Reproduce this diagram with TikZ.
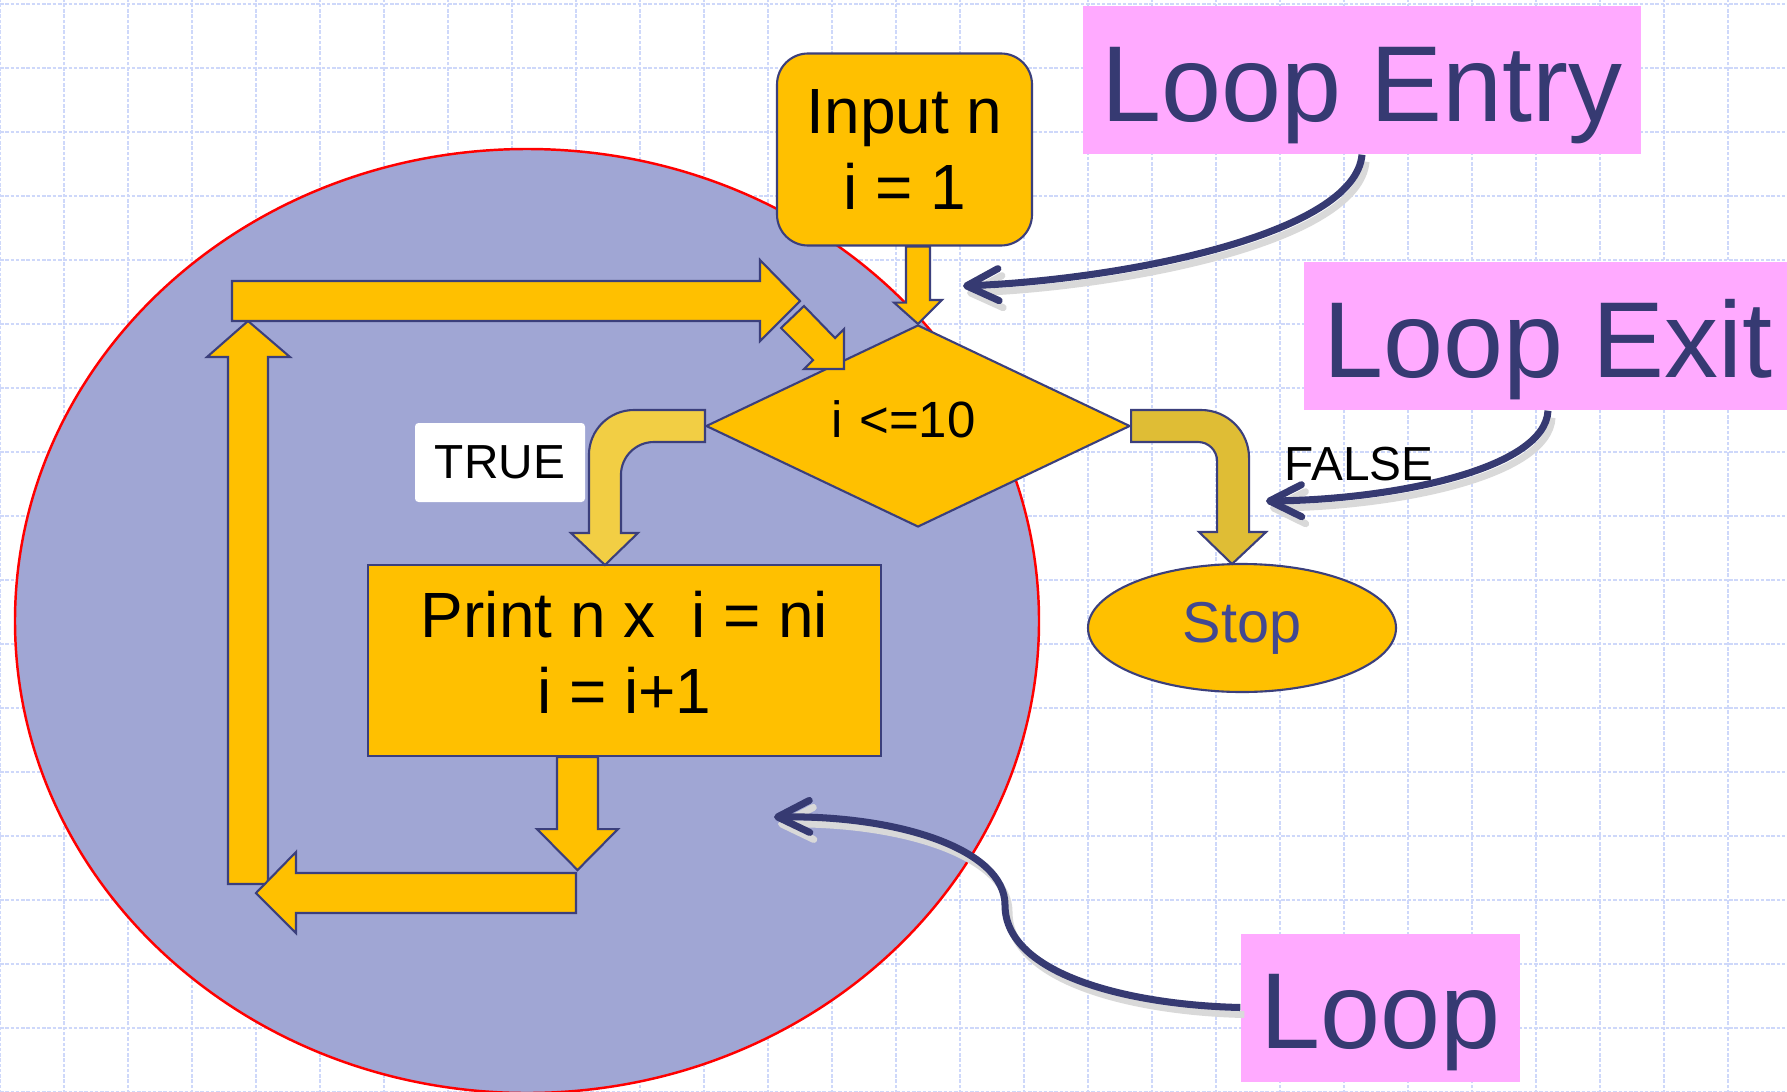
\documentclass[tikz,border=0pt]{standalone}
\usepackage{fontspec}
\setmainfont{Liberation Sans}
\usetikzlibrary{shapes.geometric}
\usetikzlibrary{arrows.meta}

\definecolor{gold}{RGB}{255,192,0}
\definecolor{truegold}{RGB}{242,206,68}
\definecolor{falsegold}{RGB}{223,189,53}
\definecolor{navyline}{RGB}{59,63,124}
\definecolor{navytext}{RGB}{54,58,114}
\definecolor{stoptext}{RGB}{66,72,145}
\definecolor{loopfill}{RGB}{160,166,212}
\definecolor{labelpink}{RGB}{255,170,255}
\definecolor{gridblue}{RGB}{206,216,250}

\begin{document}
\begin{tikzpicture}[
process/.style = {draw = navyline, fill = gold, line width = 0.6pt, align = center, inner sep = 0pt, font = \fontsize{18.2}{21.5}\selectfont},
decision/.style = {diamond, aspect = 2, draw = navyline, fill = gold, line width = 0.6pt, inner sep = 0pt, font = \fontsize{14.5}{17}\selectfont},
terminal/.style = {ellipse, draw = navyline, fill = gold, line width = 0.6pt, text = stoptext, font = \fontsize{16.4}{19}\selectfont},
blockarrow/.style = {draw = navyline, fill = gold, line width = 0.6pt},
tag/.style = {fill = labelpink, text = navytext, inner sep = 0pt, minimum height = 1.48cm, text height = 0.9cm, text depth = 0.08cm, font = \fontsize{30.7}{36}\selectfont},
callout/.style = {draw = navytext, line width = 2pt, -{Straight Barb[round, length = 3.2mm, width = 3.2mm]},
  preaction = {draw = black!15, line width = 2pt, transform canvas = {shift = {(0.4mm,-0.7mm)}}}},
branch/.style = {inner sep = 0pt, font = \fontsize{13.6}{16}\selectfont}]

\useasboundingbox (0,0) rectangle (17.87,-10.91);
\clip (0,0) rectangle (17.87,-10.91);

% squared paper
\fill[white] (0,0) rectangle (17.87,-10.91);
\draw[gridblue, line width = 0.8pt, dash pattern = on 1pt off 0.5pt, yshift = -0.04cm, step = 0.64cm] (0,0.04) grid (17.92,-11.0);

% the loop body
\node[ellipse, draw = red, line width = 0.7pt, fill = loopfill, minimum width = 10.24cm, minimum height = 9.44cm] (body) at (5.27,-6.21) {};

% way back to the test
\draw[blockarrow] (2.28,-8.84) -- (2.28,-3.57) -- (2.07,-3.57) -- (2.48,-3.21) -- (2.90,-3.57) -- (2.68,-3.57) -- (2.68,-8.84) -- cycle;
\draw[blockarrow] (2.32,-2.81) -- (7.60,-2.81) -- (7.60,-2.60) -- (8.00,-3.01) -- (7.60,-3.41) -- (7.60,-3.21) -- (2.32,-3.21) -- cycle;
\draw[blockarrow] (5.76,-8.73) -- (2.96,-8.73) -- (2.96,-8.52) -- (2.56,-8.93) -- (2.96,-9.33) -- (2.96,-9.13) -- (5.76,-9.13) -- cycle;

\node[process, rounded corners = 0.31cm, minimum width = 2.55cm, minimum height = 1.92cm] (input) at (9.045,-1.495) {Input n\\i = 1};
\node[decision, minimum width = 4.24cm, minimum height = 2.02cm, text width = 1.74cm, align = left, text height = 0.22cm, text depth = 0cm] (test) at (9.18,-4.26) {i <=10};
\node[process, minimum width = 5.13cm, minimum height = 1.91cm] (print) at (6.245,-6.605) {Print n x\ \ i = ni\\i = i+1\rule[-0.16cm]{0pt}{0.16cm}};
\node[terminal, minimum width = 3.08cm, minimum height = 1.28cm] (stop) at (12.42,-6.28) {Stop};

\node[branch, fill = white, rounded corners = 1pt, minimum width = 1.70cm, minimum height = 0.79cm] (truelabel) at (5.00,-4.625) {TRUE};
\node[branch, anchor = base] (falselabel) at (13.59,-4.80) {FALSE};

% flow arrows
\draw[blockarrow] ([xshift = 0.015cm]input.south) -- ++(0,-0.56) -- ++(-0.12,0) -- (test.north) -- ++(0.24,0.24) -- ++(-0.12,0) |- ([xshift = 0.255cm]input.south) -- cycle;
\draw[blockarrow] (7.81,-3.28) -- (8.04,-3.06) -- (8.35,-3.38) -- (8.44,-3.29) -- (8.44,-3.69) -- (8.04,-3.69) -- (8.13,-3.60) -- cycle;
\draw[blockarrow] ([xshift = -0.675cm]print.south) -- ++(0,-0.72) -- ++(-0.2,0) -- ++(0.405,-0.41) -- ++(0.405,0.41) -- ++(-0.2,0) -- ++(0,0.72) -- cycle;
\draw[blockarrow, fill = truegold] ([yshift = 0.16cm]test.west) -- ++(-0.71,0) arc[start angle = 90, end angle = 180, radius = 0.45] -- ++(0,-0.78) -- ++(-0.18,0) -- ++(0.34,-0.32) -- ++(0.33,0.32) -- ++(-0.17,0) -- ++(0,0.58) arc[start angle = 180, end angle = 90, radius = 0.33] -- ([yshift = -0.16cm]test.west) -- cycle;
\draw[blockarrow, fill = falsegold] ([yshift = 0.16cm]test.east) -- ++(0.70,0) arc[start angle = 90, end angle = 0, radius = 0.48] -- ++(0,-0.74) -- ++(0.17,0) -- ++(-0.34,-0.32) -- ++(-0.33,0.32) -- ++(0.18,0) -- ++(0,0.71) arc[start angle = 0, end angle = 90, radius = 0.19] -- ([yshift = -0.16cm]test.east) -- cycle;

% labels
\node[tag, minimum width = 5.58cm] (entry) at (13.62,-0.80) {Loop Entry};
\node[tag, minimum width = 4.88cm] (exit) at (15.48,-3.36) {Loop Exit};
\node[tag, minimum width = 2.79cm] (loop) at (13.805,-10.075) {Loop};

\coordinate (entrytip) at (9.63,-2.86);
\coordinate (exittip) at (12.66,-5.01);
\coordinate (looptip) at (7.74,-8.17);

\draw[callout] (entry.south) .. controls (13.55,-2.35) and (11.2,-2.80) .. (entrytip);
\draw[callout] (exit.south) .. controls (15.45,-4.7) and (13.9,-5.0) .. (exittip);
\draw[callout] (loop.west) .. controls (11.3,-10.05) and (10.05,-9.75) .. (10.05,-9.05) .. controls (10.05,-8.5) and (9.0,-8.15) .. (looptip);

\end{tikzpicture}
\end{document}
